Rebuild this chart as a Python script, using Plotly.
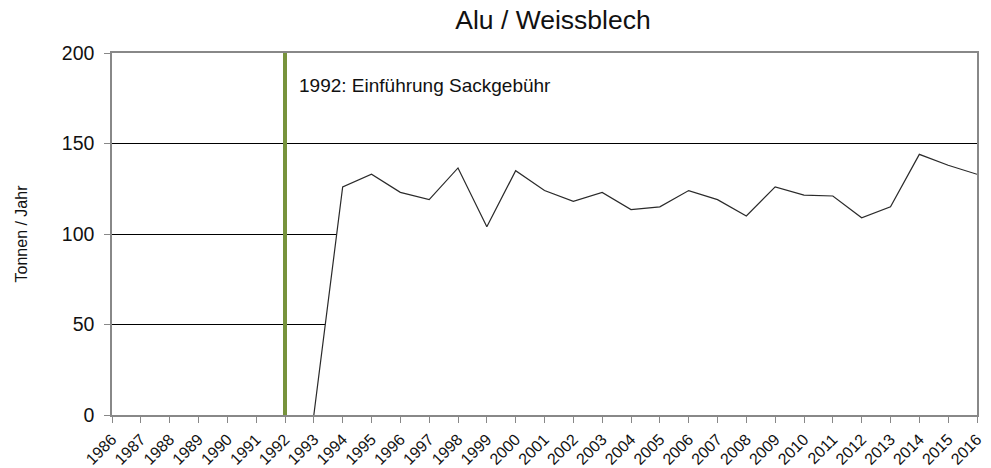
import plotly.graph_objects as go

years = list(range(1993, 2017))
tonnes = [0, 126, 133, 123, 119, 136.5, 104, 135, 124, 118, 123, 113.5, 115, 124,
          119, 110, 126, 121.5, 121, 109, 115, 144, 138, 133]
tick_years = list(range(1986, 2017))
event_year = 1992
event_text = "1992: Einführung Sackgebühr"
y_ticks = [0, 50, 100, 150, 200]

fig = go.Figure()
fig.add_trace(go.Scatter(
    x=years, y=tonnes, mode="lines",
    line=dict(color="#2a2a2a", width=1.2),
    fill="tozeroy", fillcolor="white",
    showlegend=False, hoverinfo="skip",
))
fig.add_trace(go.Scatter(
    x=[event_year, event_year], y=[0, 200], mode="lines",
    line=dict(color="#77933C", width=4),
    showlegend=False, hoverinfo="skip",
))
fig.add_annotation(
    x=event_year, y=182, xref="x", yref="y", text=event_text,
    showarrow=False, xanchor="left", xshift=12,
    font=dict(size=19, color="#111111"),
)

fig.update_layout(
    width=991, height=468,
    margin=dict(l=112, r=14, t=53, b=53),
    paper_bgcolor="white", plot_bgcolor="white",
    font=dict(family="Liberation Sans, Arial, sans-serif", color="#111111"),
    title=dict(text="Alu / Weissblech", x=0.558, xanchor="center", y=0.958,
               yanchor="middle", font=dict(size=26.5, color="#111111")),
)
fig.update_xaxes(
    range=[1986, 2016], tickmode="array", tickvals=tick_years,
    ticktext=[str(y) for y in tick_years], tickangle=-45,
    tickfont=dict(size=16), showgrid=False, zeroline=False, automargin=False,
    showline=True, linecolor="#888888", linewidth=1.5, mirror=True,
    ticks="outside", ticklen=6, tickcolor="#888888", ticklabelstandoff=1,
)
fig.update_yaxes(
    range=[0, 200], tickmode="array", tickvals=y_ticks,
    tickfont=dict(size=19.5), showgrid=True, gridcolor="#000000", gridwidth=1,
    zeroline=False, showline=True, linecolor="#888888", linewidth=1.5, mirror=True,
    ticks="outside", ticklen=6, tickcolor="#888888", automargin=False,
    ticklabelstandoff=6,
    title=dict(text="Tonnen / Jahr", font=dict(size=16), standoff=30),
)

fig.write_html("out.html", config={"displayModeBar": False},
               post_script="document.body.style.margin='0';")
